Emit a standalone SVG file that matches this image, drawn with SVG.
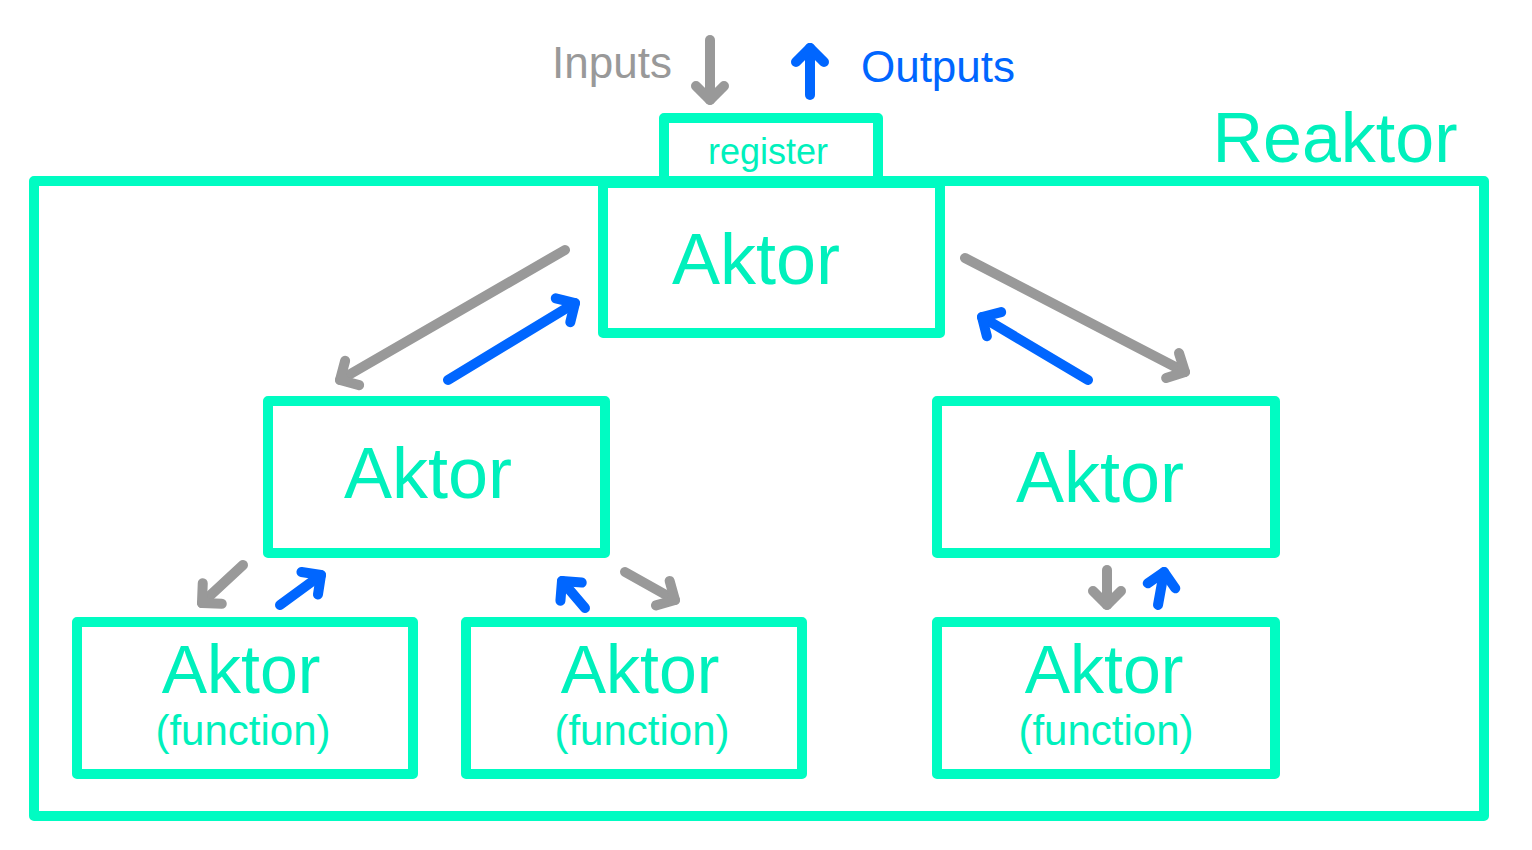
<svg xmlns="http://www.w3.org/2000/svg" width="1532" height="850" viewBox="0 0 1532 850">
<defs>
<style>
.box{fill:none;stroke:#00FCC2;stroke-width:10;stroke-linejoin:round}
.t{fill:#00F0BC;font-family:"Liberation Sans",sans-serif;text-anchor:middle}
.g{stroke:#999;stroke-width:10;stroke-linecap:round;fill:none}
.b{stroke:#0066FF;stroke-width:10;stroke-linecap:round;fill:none}
</style>
<marker id="hg" markerUnits="userSpaceOnUse" markerWidth="40" markerHeight="40" refX="20" refY="20" orient="auto" viewBox="0 0 40 40"><path d="M6 6 L20 20 L6 34" fill="none" stroke="#999" stroke-width="10" stroke-linecap="round" stroke-linejoin="round"/></marker>
<marker id="hb" markerUnits="userSpaceOnUse" markerWidth="40" markerHeight="40" refX="20" refY="20" orient="auto" viewBox="0 0 40 40"><path d="M6 6 L20 20 L6 34" fill="none" stroke="#0066FF" stroke-width="10" stroke-linecap="round" stroke-linejoin="round"/></marker>
</defs>
<rect width="1532" height="850" fill="#fff"/>
<g id="reaktor"><rect class="box" x="34" y="181" width="1450" height="635"/><text class="t" x="1335" y="162" font-size="70">Reaktor</text></g>
<g id="register"><rect class="box" x="664" y="118" width="214" height="63" fill="#fff"/><text class="t" x="768" y="164" font-size="36">register</text></g>
<g id="aktor-top"><rect class="box" x="603" y="183" width="337" height="150" style="fill:#fff"/><text class="t" x="756" y="284" font-size="72">Aktor</text></g>
<g id="aktor-left"><rect class="box" x="268" y="401" width="337" height="152"/><text class="t" x="428" y="498" font-size="72">Aktor</text></g>
<g id="aktor-right"><rect class="box" x="937" y="401" width="338" height="152"/><text class="t" x="1100" y="502" font-size="72">Aktor</text></g>
<g id="func1"><rect class="box" x="77" y="622" width="336" height="152"/><text class="t" x="241" y="693" font-size="68">Aktor</text><text class="t" x="243" y="745" font-size="42">(function)</text></g>
<g id="func2"><rect class="box" x="466" y="622" width="336" height="152"/><text class="t" x="640" y="693" font-size="68">Aktor</text><text class="t" x="642" y="745" font-size="42">(function)</text></g>
<g id="func3"><rect class="box" x="937" y="622" width="338" height="152"/><text class="t" x="1104" y="693" font-size="68">Aktor</text><text class="t" x="1106" y="745" font-size="42">(function)</text></g>
<g id="labels">
<text x="612" y="78" font-size="44" fill="#999" font-family="Liberation Sans,sans-serif" text-anchor="middle">Inputs</text>
<text x="938" y="82" font-size="44" fill="#0066FF" font-family="Liberation Sans,sans-serif" text-anchor="middle">Outputs</text>
</g>
<g id="connectors">
<path class="g" d="M710 40 L710 100" marker-end="url(#hg)"/>
<path class="b" d="M810 95 L810 48" marker-end="url(#hb)"/>
<path class="g" d="M565 250 L340 380" marker-end="url(#hg)"/>
<path class="b" d="M448 380 L575 303" marker-end="url(#hb)"/>
<path class="g" d="M965 258 L1185 372" marker-end="url(#hg)"/>
<path class="b" d="M1088 380 L982 317" marker-end="url(#hb)"/>
<path class="g" d="M243 565 L202 603" marker-end="url(#hg)"/>
<path class="b" d="M280 605 L321 575" marker-end="url(#hb)"/>
<path class="b" d="M585 608 L562 581" marker-end="url(#hb)"/>
<path class="g" d="M625 572 L675 600" marker-end="url(#hg)"/>
<path class="g" d="M1107 570 L1107 605" marker-end="url(#hg)"/>
<path class="b" d="M1158 605 L1164 572" marker-end="url(#hb)"/>
</g>
</svg>
